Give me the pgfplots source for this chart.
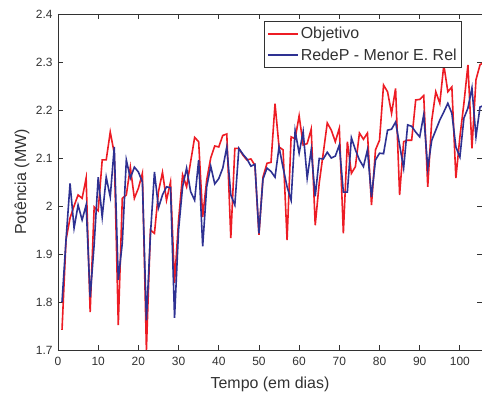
\documentclass[border=0pt]{standalone}
\usepackage{fontspec}
\setmainfont{Liberation Sans}
\usepackage{pgfplots}
\usepackage{pgfplotstable}
\pgfplotsset{compat=1.18}
\definecolor{cred}{RGB}{237,28,36}
\definecolor{cblue}{RGB}{46,49,146}
\definecolor{caxis}{RGB}{50,50,50}
\pgfplotstableread{
d obj rede
1 1.742 1.80
2 1.93 1.93
3 1.975 2.047
4 2.000 1.954
5 2.023 2.002
6 2.016 1.971
7 2.058 2.002
8 1.779 1.81
9 1.998 1.92
10 1.99 2.06
11 2.096 1.977
12 2.096 2.06
13 2.154 2.019
14 2.11 2.123
15 1.752 1.846
16 2.016 1.923
17 2.023 2.096
18 2.081 2.058
19 2.016 2.081
20 2.037 2.071
21 2.068 2.05
22 1.700 1.762
23 1.95 1.94
24 1.943 2.071
25 2.03 1.996
26 2.07 2.023
27 2.012 2.04
28 2.05 2.038
29 1.84 1.767
30 1.97 1.95
31 2.065 2.04
32 2.04 2.079
33 2.092 2.03
34 2.143 2.012
35 2.134 2.096
36 1.977 1.916
37 2.054 2.04
38 2.10 2.083
39 2.125 2.046
40 2.123 2.057
41 2.147 2.079
42 2.15 2.123
43 1.933 2.023
44 2.12 2.002
45 2.12 2.12
46 2.106 2.108
47 2.096 2.098
48 2.098 2.083
49 2.085 2.087
50 1.94 1.943
51 2.06 2.056
52 2.089 2.079
53 2.091 2.072
54 2.213 2.06
55 2.123 2.123
56 2.117 2.08
57 1.929 2.04
58 2.144 2.012
59 2.14 2.157
60 2.188 2.11
61 2.127 2.155
62 2.13 2.058
63 2.16 2.117
64 1.96 2.02
65 2.048 2.099
66 2.11 2.098
67 2.173 2.112
68 2.158 2.10
69 2.134 2.104
70 2.162 2.127
71 1.943 2.029
72 2.134 2.029
73 2.068 2.142
74 2.082 2.117
75 2.152 2.096
76 2.139 2.082
77 2.152 2.117
78 2.002 2.019
79 2.117 2.096
80 2.137 2.11
81 2.252 2.109
82 2.238 2.158
83 2.193 2.16
84 2.245 2.175
85 2.023 2.127
86 2.134 2.079
87 2.137 2.169
88 2.137 2.166
89 2.221 2.154
90 2.222 2.144
91 2.23 2.19
92 2.04 2.079
93 2.179 2.137
94 2.238 2.158
95 2.214 2.179
96 2.294 2.196
97 2.238 2.214
98 2.248 2.193
99 2.058 2.123
100 2.144 2.102
101 2.214 2.183
102 2.294 2.204
103 2.12 2.246
104 2.263 2.144
105 2.294 2.206
106 2.30 2.21
}\datatable
\begin{document}
\begin{tikzpicture}
\begin{axis}[
  scale only axis, width=424bp, height=336bp,
  xmin=0, xmax=105.5, ymin=1.7, ymax=2.4,
  xtick={0,10,20,30,40,50,60,70,80,90,100},
  ytick={1.7,1.8,1.9,2,2.1,2.2,2.3,2.4},
  /pgf/number format/assume math mode=true,
  yticklabel style={/pgf/number format/fixed, /pgf/number format/precision=1, xshift=-2bp},
  xticklabel style={yshift=-4bp},
  ticklabel style={font=\fontsize{12}{14}\selectfont, text=caxis},
  tick align=inside, xtick pos=both, ytick pos=both,
  major tick length=5bp,
  axis line style={caxis, line width=0.8bp},
  tick style={caxis, line width=0.8bp},
  xlabel={Tempo (em dias)}, ylabel={Potência (MW)},
  label style={font=\fontsize{16}{18}\selectfont, text=caxis},
  xlabel style={at={(axis description cs:0.5,0)}, anchor=center, yshift=-34bp},
  ylabel style={at={(axis description cs:0,0.5)}, anchor=center, rotate=0, yshift=36bp},
  legend style={at={(rel axis cs:0.953,0.979)}, anchor=north east,
    draw=caxis, line width=0.8bp, font=\fontsize{16}{18}\selectfont,
    inner xsep=3bp, inner ysep=4bp, row sep=4bp, text=caxis},
  legend cell align=left,
  legend image code/.code={\draw[#1] (0bp,0bp) -- (30bp,0bp);},
]
\addplot[cred, line width=1.6bp] table[x=d, y=obj] {\datatable};
\addlegendentry{Objetivo}
\addplot[cblue, line width=1.6bp] table[x=d, y=rede] {\datatable};
\addlegendentry{RedeP - Menor E. Rel}
\end{axis}
\pgfresetboundingbox
\path (-58bp,-46bp) rectangle (424bp,350bp);
\end{tikzpicture}
\end{document}
